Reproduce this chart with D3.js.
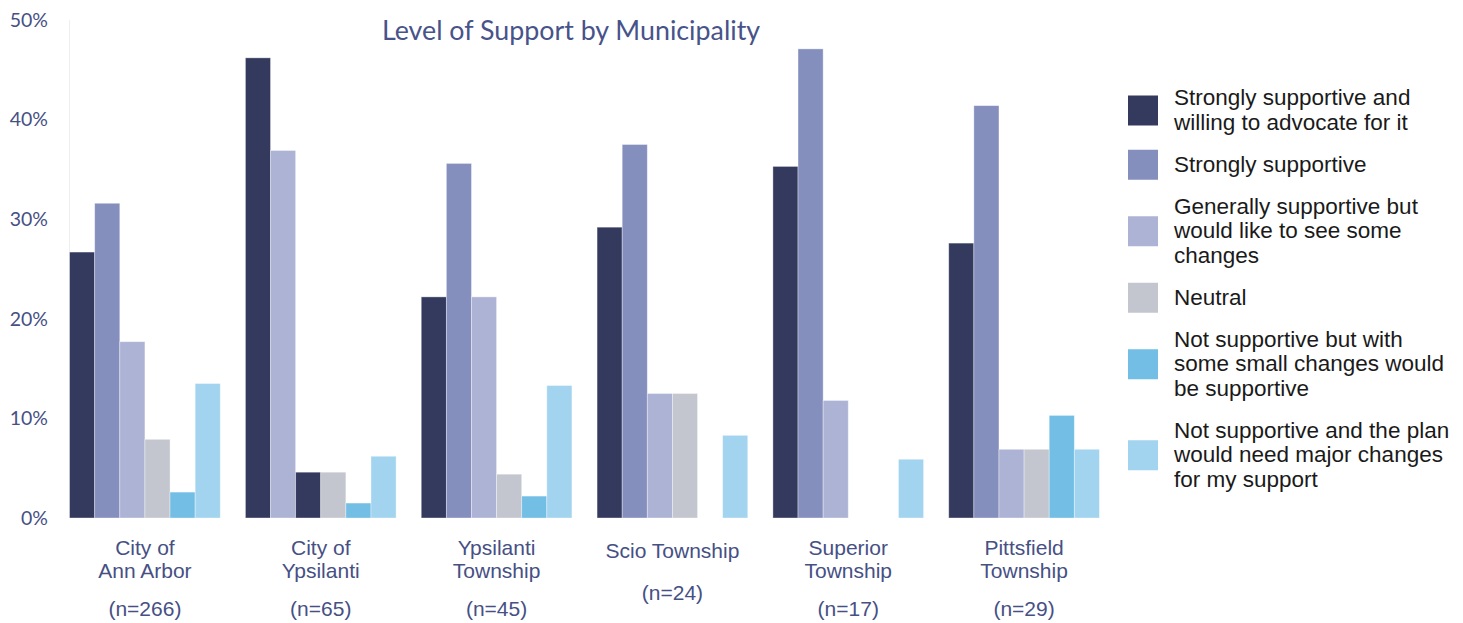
<!DOCTYPE html>
<html>
<head>
<meta charset="utf-8">
<script src="https://cdn.jsdelivr.net/npm/d3@7"></script>
<style>
  body { margin: 0; background: #ffffff; }
  svg { display: block; }
</style>
</head>
<body>
<svg id="chart" width="1463" height="623"></svg>
<script>
// Municipalities and respondent counts
const categories = ["City of Ann Arbor", "City of Ypsilanti", "Ypsilanti Township", "Scio Township", "Superior Township", "Pittsfield Township"];
const categoryLines = [["City of", "Ann Arbor"], ["City of", "Ypsilanti"], ["Ypsilanti", "Township"], ["Scio Township"], ["Superior", "Township"], ["Pittsfield", "Township"]];
const sampleSizes = [266, 65, 45, 24, 17, 29];

// Share of respondents (%) per level of support, one value per municipality
const advocate     = [26.7, 46.2, 22.2, 29.2, 35.3, 27.6];
const strongly     = [31.6, 36.9, 35.6, 37.5, 47.1, 41.4];
const generally    = [17.7, 4.6, 22.2, 12.5, 11.8, 6.9];
const neutral      = [7.9, 4.6, 4.4, 12.5, 0, 6.9];
const smallChanges = [2.6, 1.5, 2.2, 0, 0, 10.3];
const majorChanges = [13.5, 6.2, 13.3, 8.3, 5.9, 6.9];

const seriesNames = [
  "Strongly supportive and willing to advocate for it",
  "Strongly supportive",
  "Generally supportive but would like to see some changes",
  "Neutral",
  "Not supportive but with some small changes would be supportive",
  "Not supportive and the plan would need major changes for my support"
];
const legendLines = [
  ["Strongly supportive and", "willing to advocate for it"],
  ["Strongly supportive"],
  ["Generally supportive but", "would like to see some", "changes"],
  ["Neutral"],
  ["Not supportive but with", "some small changes would", "be supportive"],
  ["Not supportive and the plan", "would need major changes", "for my support"]
];
const seriesValues = [advocate, strongly, generally, neutral, smallChanges, majorChanges];
const yTicks = [0, 10, 20, 30, 40, 50];

const seriesColors = ["#333a5e", "#848fbd", "#adb3d4", "#c3c6cf", "#72bee4", "#a3d4ef"];
// The City of Ypsilanti group is shaded with a different palette order
const fillIndexByCategory = {
  "City of Ypsilanti": [0, 2, 0, 3, 4, 5]
};

const textColor = "#465084";
const svg = d3.select("#chart");

const y = d3.scaleLinear().domain([0, 50]).range([518, 20]);
const x0 = d3.scaleBand().domain(categories).range([57, 1112])
  .paddingInner(0.143).paddingOuter(0.0715);
const x1 = d3.scaleBand().domain(d3.range(seriesNames.length)).range([0, x0.bandwidth()]);

// Faint vertical axis line
svg.append("line")
  .attr("x1", 69.5).attr("x2", 69.5)
  .attr("y1", y(50)).attr("y2", y(0))
  .attr("stroke", "#eceef3").attr("stroke-width", 1);

// Y axis labels
const yAxis = d3.axisLeft(y).tickValues(yTicks).tickSize(0).tickPadding(0)
  .tickFormat(d => d + "%");
const yg = svg.append("g").attr("transform", "translate(48,0)").call(yAxis);
yg.select(".domain").remove();
yg.selectAll("text")
  .attr("fill", textColor)
  .style("font-family", "Lato, 'Open Sans', sans-serif")
  .style("font-size", "19.5px");

// Bars
const rows = categories.map((c, i) => ({
  category: c,
  bars: seriesValues.map((vals, s) => ({
    s,
    value: vals[i],
    fill: seriesColors[(fillIndexByCategory[c] || d3.range(seriesNames.length))[s]]
  }))
}));

const groups = svg.append("g").selectAll("g")
  .data(rows).join("g")
  .attr("transform", d => `translate(${x0(d.category)},0)`);

groups.selectAll("rect")
  .data(d => d.bars.filter(b => b.value > 0))
  .join("rect")
  .attr("x", d => x1(d.s))
  .attr("width", x1.bandwidth())
  .attr("y", d => y(d.value))
  .attr("height", d => y(0) - y(d.value))
  .attr("fill", d => d.fill)
  .attr("stroke", "#ffffff")
  .attr("stroke-opacity", 0.45)
  .attr("stroke-width", 0.8);

// Category labels and sample sizes
const catFont = "'Liberation Sans', Arial, Helvetica, sans-serif";
categories.forEach((c, i) => {
  const cx = x0(c) + x0.bandwidth() / 2;
  const lines = categoryLines[i];
  const single = lines.length === 1;
  const t = svg.append("text")
    .attr("text-anchor", "middle")
    .attr("fill", textColor)
    .style("font-family", catFont)
    .style("font-size", "21px");
  lines.forEach((ln, k) => {
    t.append("tspan").attr("x", cx).attr("y", (single ? 558 : 555) + k * 23).text(ln);
  });
  svg.append("text")
    .attr("x", cx)
    .attr("y", single ? 600 : 616)
    .attr("text-anchor", "middle")
    .attr("fill", textColor)
    .style("font-family", catFont)
    .style("font-size", "21px")
    .text(`(n=${sampleSizes[i]})`);
});

// Title
svg.append("text")
  .attr("x", 571).attr("y", 40)
  .attr("text-anchor", "middle")
  .attr("fill", "#48538a")
  .style("font-family", "Lato, 'Open Sans', sans-serif")
  .style("font-size", "26.8px")
  .text("Level of Support by Municipality");

// Legend
const legend = svg.append("g");
const lineStep = 24.5, itemStep = 42, capH = 15.5;
let baseline = 105;
legendLines.forEach((lines, i) => {
  const first = baseline;
  const last = first + (lines.length - 1) * lineStep;
  const center = (first - capH + last) / 2 + 1;
  legend.append("rect")
    .attr("x", 1128).attr("y", center - 15)
    .attr("width", 30).attr("height", 30)
    .attr("fill", seriesColors[i]);
  const t = legend.append("text")
    .attr("fill", "#1a1a1a")
    .style("font-family", catFont)
    .style("font-size", "22.5px");
  lines.forEach((ln, k) => {
    t.append("tspan").attr("x", 1174).attr("y", first + k * lineStep).text(ln);
  });
  baseline = last + itemStep;
});
</script>
</body>
</html>
